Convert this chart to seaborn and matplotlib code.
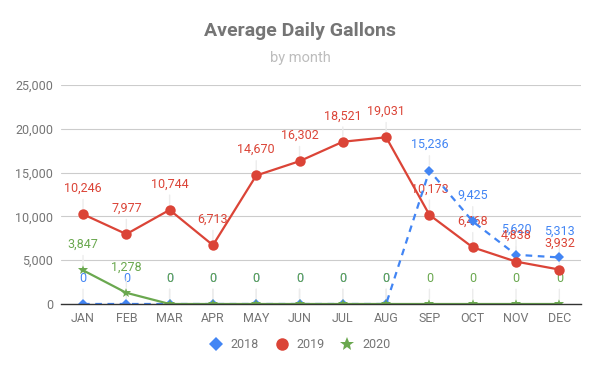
import matplotlib
matplotlib.use("Agg")
import matplotlib.pyplot as plt
import seaborn as sns
import pandas as pd
import numpy as np
from matplotlib.lines import Line2D

months = ["JAN", "FEB", "MAR", "APR", "MAY", "JUN", "JUL", "AUG", "SEP", "OCT", "NOV", "DEC"]
y2018 = [0, 0, 0, 0, 0, 0, 0, 0, 15236, 9425, 5620, 5313]
y2019 = [10246, 7977, 10744, 6713, 14670, 16302, 18521, 19031, 10173, 6468, 4838, 3932]
y2020 = [3847, 1278, 0, 0, 0, 0, 0, 0, 0, 0, 0, 0]
series_names = ["2018", "2019", "2020"]
yticks = [0, 5000, 10000, 15000, 20000, 25000]

sns.set_theme(style="white")
plt.rcParams['font.family'] = ['Roboto', 'DejaVu Sans']

colors = {"2018": "#4285F4", "2019": "#DB4437", "2020": "#6AA84F"}
markers = {"2018": "D", "2019": "o", "2020": "*"}
msizes = {"2018": 5.5, "2019": 7.5, "2020": 7}
leg_sizes = {"2018": 7, "2019": 9, "2020": 10}

fig = plt.figure(figsize=(6, 3.71), dpi=100)
ax = fig.add_axes([0.1023, 0.1806, 0.8660, 0.5903])

data = {"2018": y2018, "2019": y2019, "2020": y2020}
pos = np.arange(len(months))

for name in series_names:
    df = pd.DataFrame({"x": pos, "y": data[name]})
    sns.lineplot(x="x", y="y", data=df, ax=ax, color=colors[name], marker=markers[name],
                 markersize=msizes[name], markeredgewidth=0, linewidth=1.6, label=name,
                 sort=False)
    if name == "2018":
        ax.lines[-1].set_dashes((3, 2.5))

# data labels with faint leader lines
for name in series_names:
    for i, v in enumerate(data[name]):
        ax.annotate(f"{v:,}", xy=(i, v), xytext=(0, 14), textcoords="offset points",
                    ha="center", va="bottom", fontsize=9, color=colors[name],
                    arrowprops=dict(arrowstyle="-", color="#ececec", lw=1,
                                    shrinkA=1, shrinkB=4), zorder=1)

ax.set_xlim(-0.5, len(months) - 0.5)
ax.set_ylim(0, 25000)
ax.set_yticks(yticks)
ax.set_yticklabels([f"{t:,}" for t in yticks])
ax.set_xticks(pos)
ax.set_xticklabels(months)
ax.set_xlabel("")
ax.set_ylabel("")
ax.tick_params(axis="both", colors="#757575", labelsize=9, length=0, pad=6)
ax.grid(axis="y", color="#cccccc", linewidth=0.8)
ax.set_axisbelow(True)
for s in ["top", "right", "left"]:
    ax.spines[s].set_visible(False)
ax.spines["bottom"].set_color("#333333")
ax.spines["bottom"].set_linewidth(1)

leg_handles = [Line2D([], [], linestyle="none", marker=markers[n], color=colors[n],
                      markersize=leg_sizes[n], markeredgewidth=0)
               for n in series_names]
ax.legend(leg_handles, series_names, loc="center",
          bbox_to_anchor=(0.5, 1 - 345 / 371), bbox_transform=fig.transFigure,
          ncol=3, frameon=False, fontsize=9, labelcolor="#757575", handletextpad=0.7,
          columnspacing=1.3, handlelength=1.0)

fig.text(0.5, 1 - 31 / 371, "Average Daily Gallons", ha="center", va="center",
         fontsize=14, fontweight="bold", color="#757575")
fig.text(0.5, 1 - 58 / 371, "by month", ha="center", va="center",
         fontsize=10.5, color="#bdbdbd")

fig.savefig("out.png", dpi=100)
